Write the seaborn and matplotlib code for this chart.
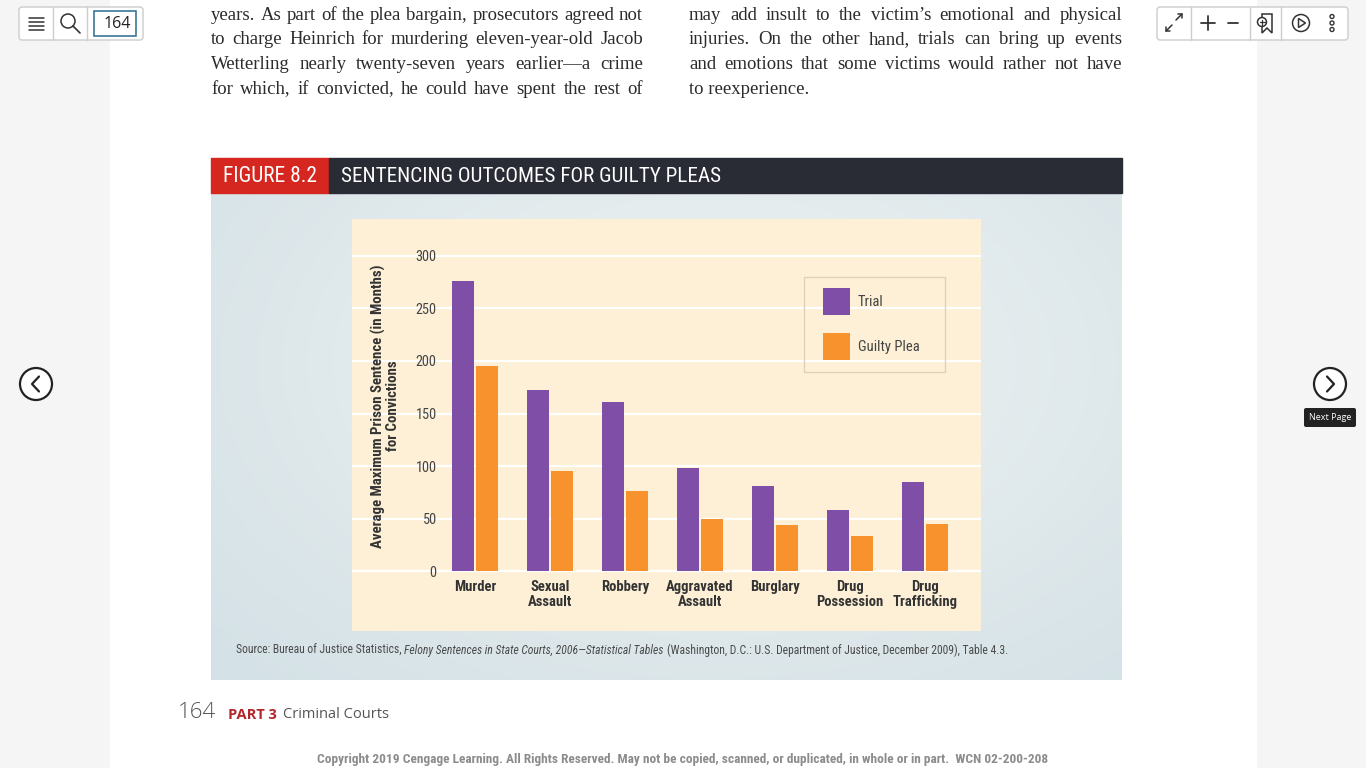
import numpy as np
import pandas as pd
import seaborn as sns
import matplotlib.pyplot as plt
from matplotlib import font_manager
from matplotlib.colors import LinearSegmentedColormap
from matplotlib.patches import Rectangle, FancyBboxPatch, Circle, Polygon

# ---- data ----
crimes = ['Murder', 'Sexual\nAssault', 'Robbery', 'Aggravated\nAssault',
          'Burglary', 'Drug\nPossession', 'Drug\nTrafficking']
trial = [276, 172, 161, 98, 81, 58, 85]
guilty_plea = [195, 95, 76, 50, 44, 33, 45]
series = ['Trial', 'Guilty Plea']
y_ticks = [0, 50, 100, 150, 200, 250, 300]

left_col = ['years. As part of the plea bargain, prosecutors agreed not',
            'to charge Heinrich for murdering eleven-year-old Jacob',
            'Wetterling nearly twenty-seven years earlier\u2014a crime',
            'for which, if convicted, he could have spent the rest of']
right_col = ['may add insult to the victim\u2019s emotional and physical',
             'injuries. On the other hand, trials can bring up events',
             'and emotions that some victims would rather not have',
             'to reexperience.']


def pick(*names):
    for n in names:
        try:
            font_manager.findfont(n, fallback_to_default=False)
            return n
        except ValueError:
            pass
    return 'DejaVu Sans'


COND = pick('Liberation Sans Narrow', 'Roboto Condensed', 'Roboto')
SERIF = pick('Liberation Serif', 'DejaVu Serif')
UI = pick('Open Sans', 'Noto Sans')

sns.set_style('white')
fig = plt.figure(figsize=(13.66, 7.68), dpi=100)
fig.patch.set_facecolor('#f5f5f5')

# background axes in pixel coordinates
bg = fig.add_axes([0, 0, 1, 1])
bg.add_patch(Rectangle((110, 0), 1146, 768, color='white', zorder=0))

yy, xx = np.mgrid[0:1:200j, 0:1:400j]
rr = np.sqrt(((xx - 0.55) / 0.75) ** 2 + ((yy - 0.35) / 0.9) ** 2)
panel_cmap = LinearSegmentedColormap.from_list('panel', ['#eff3f3', '#d4e1e6'])
bg.imshow(rr, extent=(211, 1122, 680, 193), cmap=panel_cmap, vmin=0, vmax=1,
          aspect='auto', zorder=1)
bg.set_xlim(0, 1366)
bg.set_ylim(768, 0)
bg.axis('off')

# figure header
bg.add_patch(Rectangle((211, 158), 118, 35, color='#d5271f', zorder=2))
bg.add_patch(Rectangle((329, 158), 793, 35, color='#2a2c35', zorder=2))
bg.text(223, 176, 'FIGURE 8.2', color='white', fontsize=15.5, family=COND,
        va='center', zorder=3)
bg.text(341, 176, 'SENTENCING OUTCOMES FOR GUILTY PLEAS', color='white',
        fontsize=15.2, family=COND, va='center', zorder=3)

renderer = fig.canvas.get_renderer()
body = dict(fontsize=13.5, family=SERIF, color='#2b2b2b', va='baseline')


def justify(lines, x0, x1, y0, last_left):
    for i, line in enumerate(lines):
        y = y0 + i * 24.5
        if last_left and i == len(lines) - 1:
            bg.text(x0, y, line, **body)
            continue
        words = line.split()
        ts = [bg.text(0, y, w, **body) for w in words]
        ws = [t.get_window_extent(renderer).width for t in ts]
        gap = (x1 - x0 - sum(ws)) / (len(words) - 1)
        x = x0
        for t, w in zip(ts, ws):
            t.set_x(x)
            x += w + gap


justify(left_col, 211, 643, 20, False)
justify(right_col, 689, 1122, 20, True)

# ---- the chart ----
ax = fig.add_axes([352 / 1366, 1 - 631 / 768, 629 / 1366, 412 / 768])
ax.set_facecolor('#fdf0d6')
df = pd.DataFrame({'crime': crimes * 2,
                   'months': trial + guilty_plea,
                   'type': [series[0]] * len(crimes) + [series[1]] * len(crimes)})
sns.barplot(data=df, x='crime', y='months', hue='type', hue_order=series,
            palette=['#7f4fa7', '#f8922c'], width=0.64, gap=0.08,
            saturation=1, linewidth=0, ax=ax)

ax.set_xlim(-1.64, 6.75)
ax.set_ylim(-57.1, 335.2)
ax.set_yticks(y_ticks)
ax.grid(axis='y', color='white', lw=1.6)
ax.grid(axis='x', visible=False)
ax.set_axisbelow(True)
for s in ax.spines.values():
    s.set_visible(False)
ax.set_xlabel('')
ax.set_ylabel('Average Maximum Prison Sentence (in Months)\nfor Convictions',
              fontsize=10.7, family=COND, fontweight='bold', color='#333333',
              va='center', linespacing=1.0)
ax.yaxis.set_label_coords((385 - 352) / 629, (631 - 406) / 412)

ax.tick_params(axis='y', length=0, pad=-61, labelsize=10.3, labelcolor='#444444')
ax.tick_params(axis='x', length=0, pad=-37, labelsize=10.5, labelcolor='#333333')
for lbl in ax.get_yticklabels():
    lbl.set_family(COND)
for lbl in ax.get_xticklabels():
    lbl.set_family(COND)
    lbl.set_fontweight('bold')
    lbl.set_linespacing(1.15)

# legend: entries from seaborn, thin frame drawn as its own box (no fill,
# the white grid shows through it in the original)
handles, labels = ax.get_legend_handles_labels()
ax.legend(handles, labels, loc='upper left',
          bbox_to_anchor=((823 - 352) / 629, (631 - 288) / 412),
          frameon=False, handlelength=1.85, handleheight=2.47,
          labelspacing=1.24, borderpad=0, handletextpad=0.55, borderaxespad=0,
          prop=dict(family=COND, size=10.5), labelcolor='#444444')
ax.add_patch(Rectangle((804, 277), 141, 95, fill=False, ec='#dcd2bc', lw=1,
                       transform=bg.transData, clip_on=False, zorder=3))

# source line
src = [('Source: Bureau of Justice Statistics,', 'normal'),
       ('Felony Sentences in State Courts, 2006\u2014Statistical Tables', 'italic'),
       ('(Washington, D.C.: U.S. Department of Justice, December 2009), Table 4.3.', 'normal')]
x = 236
for s, st in src:
    t = bg.text(x, 654, s, fontsize=8.4, style=st, family=COND, color='#4a4a4a',
                va='baseline', zorder=3)
    x += t.get_window_extent(renderer).width + 3

# page footer
bg.text(178, 713, '164', fontsize=16, family=UI, fontweight='light',
        color='#555555', va='center')
bg.text(228, 715, 'PART 3', fontsize=10.5, family=UI, fontweight='bold',
        color='#b3262d', va='center')
bg.text(283, 715, 'Criminal Courts', fontsize=10.5, family=UI,
        color='#555555', va='center')
bg.text(683, 759, 'Copyright 2019 Cengage Learning. All Rights Reserved. May not be copied, '
        'scanned, or duplicated, in whole or in part.  WCN 02-200-208',
        fontsize=9.6, family=COND, fontweight='bold', color='#8c8c8c',
        ha='center', va='center')

# reader toolbars
ink = '#333333'
bg.add_patch(FancyBboxPatch((19, 7), 124, 33, boxstyle='round,pad=0,rounding_size=3',
                            fc='white', ec='#cccccc', lw=1, zorder=4))
for xd in (53, 87):
    bg.plot([xd, xd], [7, 40], color='#cccccc', lw=1, zorder=5)
for yl in (17.5, 21.5, 25.5, 29.5):
    bg.plot([29, 44], [yl, yl], color=ink, lw=1.1, zorder=5)
bg.add_patch(Circle((68, 21), 7, fill=False, ec=ink, lw=1.1, zorder=5))
bg.plot([73, 80], [26, 33], color=ink, lw=1.2, zorder=5)
bg.add_patch(Rectangle((94, 11), 42, 25, fc='white', ec='#2a6a8e', lw=1.1, zorder=5))
bg.text(117, 24, '164', fontsize=11.5, family=UI, color='#222222',
        ha='center', va='center', zorder=6)

bg.add_patch(FancyBboxPatch((1157, 7), 191, 33, boxstyle='round,pad=0,rounding_size=3',
                            fc='white', ec='#cccccc', lw=1, zorder=4))
for xd in (1191, 1250, 1281):
    bg.plot([xd, xd], [7, 40], color='#cccccc', lw=1, zorder=5)
# expand icon: two diagonal arrows
for (xa, ya), (xb, yb) in (((1176, 20), (1182, 14)), ((1172, 25), (1166, 31))):
    bg.plot([xa, xb], [ya, yb], color=ink, lw=1.1, zorder=5)
    sx = 1 if xb > xa else -1
    sy = 1 if yb > ya else -1
    bg.plot([xb - 4 * sx, xb, xb], [yb, yb, yb - 4 * sy], color=ink, lw=1.1, zorder=5)
bg.plot([1201, 1215], [23, 23], color=ink, lw=1.3, zorder=5)
bg.plot([1208, 1208], [16, 30], color=ink, lw=1.3, zorder=5)
bg.plot([1228, 1238], [23, 23], color=ink, lw=1.3, zorder=5)
bg.add_patch(Polygon([(1262, 14), (1272, 14), (1272, 33), (1267, 28), (1262, 33)],
                     closed=True, fill=False, ec=ink, lw=1.1, zorder=5))
bg.add_patch(Circle((1262, 22), 4.5, fc='white', ec=ink, lw=1.1, zorder=6))
bg.plot([1259.5, 1264.5], [22, 22], color=ink, lw=0.9, zorder=7)
bg.plot([1262, 1262], [19.5, 24.5], color=ink, lw=0.9, zorder=7)
bg.add_patch(Circle((1301, 23), 8.5, fill=False, ec=ink, lw=1.1, zorder=5))
bg.add_patch(Polygon([(1298.5, 18.5), (1298.5, 27.5), (1305.5, 23)], closed=True,
                     fill=False, ec=ink, lw=1.1, zorder=5))
for yd in (16.5, 23, 29.5):
    bg.add_patch(Circle((1332, yd), 2, fill=False, ec=ink, lw=1, zorder=5))

# page navigation
for cx, d in ((36, -1), (1330, 1)):
    bg.add_patch(Circle((cx, 384), 16, fc='white', ec='#222222', lw=1.6, zorder=5))
    bg.plot([cx - 3 * d, cx + 4 * d, cx - 3 * d], [376.5, 384, 391.5],
            color='#222222', lw=1.6, zorder=6)
bg.add_patch(FancyBboxPatch((1304, 408), 52, 19, boxstyle='round,pad=0,rounding_size=2',
                            fc='#222222', ec='none', zorder=5))
bg.text(1330, 417.5, 'Next Page', fontsize=6.5, family=UI, color='white',
        ha='center', va='center', zorder=6)

fig.savefig('out.png', dpi=100, facecolor=fig.get_facecolor())
